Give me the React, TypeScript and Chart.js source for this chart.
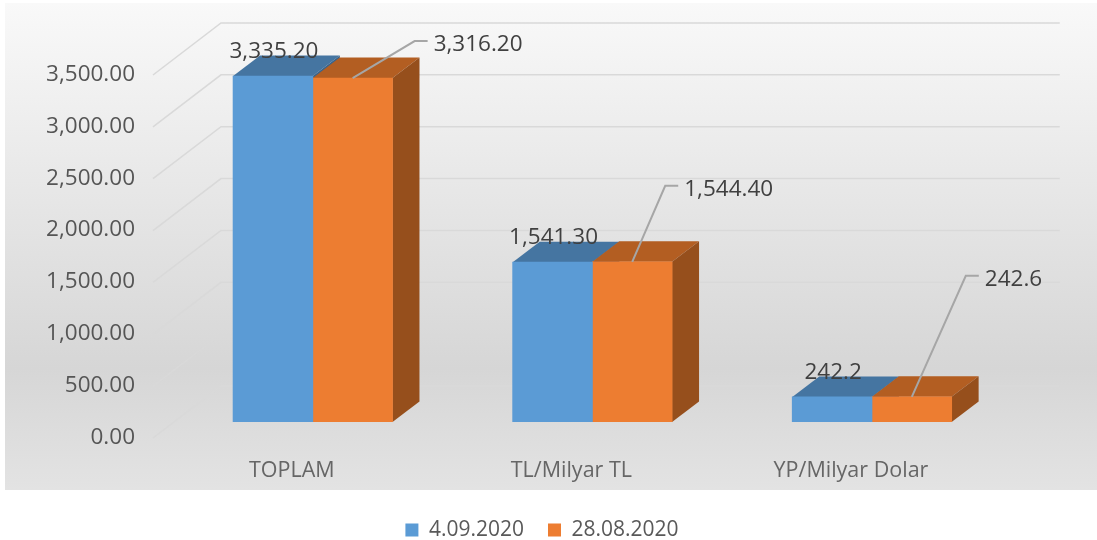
import React, { useEffect, useRef } from "react";
import { Chart, registerables } from "chart.js";

Chart.register(...registerables);

const categories = ["TOPLAM", "TL/Milyar TL", "YP/Milyar Dolar"];
const seriesNames = ["4.09.2020", "28.08.2020"];
const values0409 = [3335.2, 1541.3, 242.2];
const values2808 = [3316.2, 1544.4, 242.6];
const labels0409 = ["3,335.20", "1,541.30", "242.2"];
const labels2808 = ["3,316.20", "1,544.40", "242.6"];
const yTicksMax = 3500;
const yTicksStep = 500;

const FONT = '"Open Sans", sans-serif';
const BLUE = "#5B9BD5";
const ORANGE = "#ED7D31";
const TOP_COLORS = ["#4575A1", "#B35E22"];
const SIDE_COLORS = ["#3A648B", "#964F1C"];
const DEPTH_X = 27;
const DEPTH_Y = 20.5;
const LEADERS = [
  [62, -37],
  [33, -76],
  [54, -121],
];

const poly = (ctx: CanvasRenderingContext2D, pts: number[][], fill: string) => {
  ctx.beginPath();
  pts.forEach((p, i) => (i ? ctx.lineTo(p[0], p[1]) : ctx.moveTo(p[0], p[1])));
  ctx.closePath();
  ctx.fillStyle = fill;
  ctx.fill();
};

const chart3d = {
  id: "chart3d",
  beforeDraw(chart: any) {
    const { ctx } = chart;
    const g = ctx.createLinearGradient(0, 3, 0, 490);
    g.addColorStop(0, "#F9F9F9");
    g.addColorStop(0.75, "#D6D6D6");
    g.addColorStop(1, "#E3E3E3");
    ctx.save();
    ctx.fillStyle = g;
    ctx.fillRect(5, 3, chart.width - 5, 487);
    ctx.restore();
  },
  beforeDatasetsDraw(chart: any) {
    const { ctx, chartArea, scales } = chart;
    ctx.save();
    ctx.strokeStyle = "#D9D9D9";
    ctx.lineWidth = 1.5;
    for (let v = 0; v <= yTicksMax; v += yTicksStep) {
      const y = scales.y.getPixelForValue(v);
      ctx.beginPath();
      ctx.moveTo(chartArea.left - 20, y + 16);
      ctx.lineTo(chartArea.left + 48, y - 36);
      ctx.lineTo(chartArea.right + 48, y - 36);
      ctx.stroke();
    }
    const [m0, m1] = [chart.getDatasetMeta(0), chart.getDatasetMeta(1)];
    categories.forEach((_, i) => {
      [m0.data[i], m1.data[i]].forEach((b: any, s: number) => {
        const l = b.x - b.width / 2;
        const r = b.x + b.width / 2;
        poly(
          ctx,
          [
            [l, b.y],
            [r, b.y],
            [r + DEPTH_X, b.y - DEPTH_Y],
            [l + DEPTH_X, b.y - DEPTH_Y],
          ],
          TOP_COLORS[s]
        );
        poly(
          ctx,
          [
            [r, b.y],
            [r + DEPTH_X, b.y - DEPTH_Y],
            [r + DEPTH_X, b.base - DEPTH_Y],
            [r, b.base],
          ],
          SIDE_COLORS[s]
        );
      });
    });
    ctx.restore();
  },
  afterDatasetsDraw(chart: any) {
    const { ctx } = chart;
    const [m0, m1] = [chart.getDatasetMeta(0), chart.getDatasetMeta(1)];
    ctx.save();
    ctx.font = `22.5px ${FONT}`;
    ctx.textBaseline = "middle";
    categories.forEach((_, i) => {
      const a: any = m0.data[i];
      const b: any = m1.data[i];
      const [dx, dy] = LEADERS[i];
      ctx.strokeStyle = "#A6A6A6";
      ctx.lineWidth = 2;
      ctx.beginPath();
      ctx.moveTo(b.x, b.y);
      ctx.lineTo(b.x + dx, b.y + dy);
      ctx.lineTo(b.x + dx + 13, b.y + dy);
      ctx.stroke();
      ctx.fillStyle = "#404040";
      ctx.textAlign = "center";
      ctx.fillText(labels0409[i], a.x + 1, a.y - 24.5);
      ctx.textAlign = "left";
      ctx.fillText(labels2808[i], b.x + dx + 19, b.y + dy + 3.5);
    });
    ctx.restore();
  },
};

export default function App() {
  const ref = useRef<HTMLCanvasElement>(null);
  useEffect(() => {
    const chart = new Chart(ref.current as HTMLCanvasElement, {
      type: "bar",
      plugins: [chart3d],
      data: {
        labels: categories,
        datasets: [
          { label: seriesNames[0], data: values0409, backgroundColor: BLUE, inflateAmount: 0.4 },
          { label: seriesNames[1], data: values2808, backgroundColor: ORANGE, inflateAmount: 0.4 },
        ],
      },
      options: {
        responsive: false,
        animation: false,
        devicePixelRatio: 1,
        layout: { padding: { top: 59, left: 0, right: 13, bottom: -10.5 } },
        datasets: { bar: { categoryPercentage: 0.57, barPercentage: 1 } },
        plugins: {
          tooltip: { enabled: false },
          legend: {
            position: "bottom",
            labels: {
              boxWidth: 13,
              boxHeight: 13,
              padding: 24,
              color: "#595959",
              font: { family: FONT, size: 21 },
            },
          },
        },
        scales: {
          x: {
            grid: { display: false, drawTicks: false },
            border: { display: false },
            ticks: {
              padding: 36,
              labelOffset: -21,
              maxRotation: 0,
              color: "#666666",
              font: { family: FONT, size: 21.5 },
            },
            afterFit(s: any) {
              s.height = 73.5;
            },
          },
          y: {
            min: 0,
            max: yTicksMax,
            grid: { display: false, drawTicks: false },
            border: { display: false },
            ticks: {
              stepSize: yTicksStep,
              padding: 38,
              labelOffset: 15.5,
              color: "#555555",
              font: { family: FONT, size: 22.5 },
              callback: (v: any) =>
                Number(v).toLocaleString("en-US", {
                  minimumFractionDigits: 2,
                  maximumFractionDigits: 2,
                }),
            },
            afterFit(s: any) {
              s.width = 173;
            },
          },
          spacer: {
            type: "linear",
            position: "right",
            grid: { display: false, drawTicks: false },
            border: { display: false },
            ticks: { display: false },
            afterFit(s: any) {
              s.width = 72.25;
            },
          },
        },
      } as any,
    });
    return () => chart.destroy();
  }, []);
  return (
    <div style={{ position: "absolute", left: 0, top: 0, width: 1097, height: 540 }}>
      <canvas ref={ref} width={1097} height={540} style={{ display: "block" }} />
    </div>
  );
}
